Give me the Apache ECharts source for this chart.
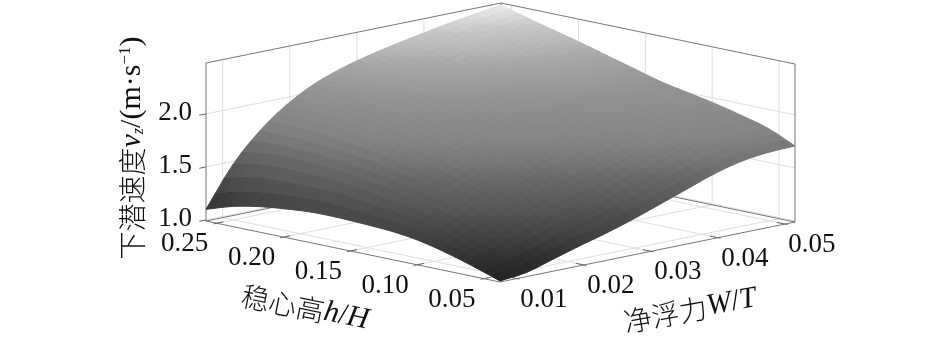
<!DOCTYPE html>
<html><head><meta charset="utf-8">
<style>html,body{margin:0;padding:0;background:#fff}#c{width:945px;height:342px}</style>
<script src="https://cdn.jsdelivr.net/npm/echarts@6/dist/echarts.min.js"></script>
</head><body><div id="c"></div>
<script>
// Grid values
const wValues = [0.0075,0.0115,0.0155,0.0195,0.0235,0.0275,0.0315,0.0355,0.0395,0.0435,0.0475,0.0515];
const hValues = [0.038,0.058,0.078,0.098,0.118,0.138,0.158,0.178,0.198,0.218,0.238,0.258];
// speed[h index][W index]
const speed = [
[1.00,1.03,1.105,1.18,1.25,1.33,1.42,1.51,1.60,1.665,1.697,1.707],
[1.085,1.144,1.231,1.315,1.383,1.465,1.553,1.638,1.72,1.78,1.81,1.82],
[1.16,1.245,1.341,1.432,1.50,1.577,1.658,1.732,1.81,1.862,1.884,1.89],
[1.22,1.331,1.438,1.535,1.603,1.676,1.749,1.817,1.885,1.93,1.946,1.95],
[1.255,1.394,1.51,1.617,1.69,1.756,1.825,1.885,1.945,1.985,1.998,2.00],
[1.27,1.438,1.568,1.685,1.762,1.825,1.891,1.947,2.00,2.036,2.048,2.05],
[1.28,1.481,1.624,1.75,1.835,1.899,1.963,2.015,2.065,2.099,2.111,2.12],
[1.28,1.513,1.672,1.81,1.90,1.966,2.031,2.082,2.126,2.158,2.175,2.19],
[1.26,1.527,1.703,1.86,1.955,2.025,2.093,2.142,2.185,2.22,2.24,2.26],
[1.23,1.532,1.728,1.90,2.004,2.079,2.149,2.201,2.243,2.28,2.305,2.325],
[1.18,1.52,1.736,1.92,2.04,2.123,2.195,2.25,2.295,2.335,2.365,2.39],
[1.10,1.47,1.735,1.93,2.07,2.165,2.235,2.29,2.34,2.385,2.425,2.46]
];
const wTicks = [0.01,0.02,0.03,0.04,0.05];
const wTickLabels = ['0.01','0.02','0.03','0.04','0.05'];
const hTicks = [0.05,0.10,0.15,0.20,0.25];
const hTickLabels = ['0.05','0.10','0.15','0.20','0.25'];
const zTicks = [1.0,1.5,2.0];
const zTickLabels = ['1.0','1.5','2.0'];
const zRange = [0.99,2.48];
// Gray colour ramp: [speed, gray level]
const grayRamp = [[1.0,34],[1.15,52],[1.3,72],[1.55,100],[1.8,132],[2.03,146],[2.2,168],[2.355,200],[2.46,238]];

// View of the 3-D box on the page plane (orthographic)
const wMin=wValues[0], wMax=wValues[wValues.length-1], hMin=hValues[0], hMax=hValues[hValues.length-1];
const origin=[500,282], wVec=[295,-60], hVec=[-294,-61], zVec=[0,-158];
function project(w,h,z){
  const a=(w-wMin)/(wMax-wMin), b=(h-hMin)/(hMax-hMin), c=(z-zRange[0])/(zRange[1]-zRange[0]);
  return [origin[0]+a*wVec[0]+b*hVec[0]+c*zVec[0], origin[1]+a*wVec[1]+b*hVec[1]+c*zVec[1]];
}
const zLo=zRange[0], zHi=zRange[1];
const gridSegs=[], boxSegs=[], tickSegs=[];
wTicks.forEach(w=>{
  gridSegs.push([[w,hMax,zLo],[w,hMax,zHi]]);
  gridSegs.push([[w,hMin,zLo],[w,hMax,zLo]]);
  tickSegs.push([[w,hMin-0.002,zLo],[w,hMin+0.006,zLo]]);
});
hTicks.forEach(h=>{
  gridSegs.push([[wMax,h,zLo],[wMax,h,zHi]]);
  gridSegs.push([[wMin,h,zLo],[wMax,h,zLo]]);
  tickSegs.push([[wMin-0.0005,h,zLo],[wMin+0.001,h,zLo]]);
});
zTicks.forEach(z=>{
  gridSegs.push([[wMin,hMax,z],[wMax,hMax,z]]);
  gridSegs.push([[wMax,hMin,z],[wMax,hMax,z]]);
  tickSegs.push([[wMin-0.001,hMax,z],[wMin,hMax,z]]);
});
boxSegs.push(
  [[wMin,hMax,zLo],[wMin,hMax,zHi]],[[wMax,hMin,zLo],[wMax,hMin,zHi]],[[wMax,hMax,zLo],[wMax,hMax,zHi]],
  [[wMin,hMax,zHi],[wMax,hMax,zHi]],[[wMax,hMin,zHi],[wMax,hMax,zHi]],
  [[wMin,hMax,zLo],[wMax,hMax,zLo]],[[wMax,hMin,zLo],[wMax,hMax,zLo]],
  [[wMin,hMin,zLo],[wMax,hMin,zLo]],[[wMin,hMin,zLo],[wMin,hMax,zLo]]
);
function grayOf(z){
  let g=grayRamp[grayRamp.length-1][1];
  if(z<=grayRamp[0][0]) g=grayRamp[0][1];
  else for(let k=1;k<grayRamp.length;k++){
    if(z<=grayRamp[k][0]){
      const a=grayRamp[k-1], b=grayRamp[k];
      g=a[1]+(b[1]-a[1])*(z-a[0])/(b[0]-a[0]);
      break;
    }
  }
  g=Math.round(g);
  return 'rgb('+g+','+g+','+g+')';
}
// Smooth drawing of the read grid (like a smoothed line): each grid cell is drawn as a few flat facets
const SUB=3;
function cr(p0,p1,p2,p3,u){
  return 0.5*(2*p1+(p2-p0)*u+(2*p0-5*p1+4*p2-p3)*u*u+(3*p1-p0-3*p2+p3)*u*u*u);
}
function ext(a,k){
  if(k<0) return 2*a[0]-a[1];
  if(k>=a.length) return 2*a[a.length-1]-a[a.length-2];
  return a[k];
}
function smoothList(a,pos){
  const k=Math.min(Math.floor(pos),a.length-2), u=pos-k;
  return cr(ext(a,k-1),a[k],a[k+1],ext(a,k+2),u);
}
const nF=(hValues.length-1)*SUB+1, mF=(wValues.length-1)*SUB+1;
const fine=[];
for(let i=0;i<nF;i++){
  const row=[];
  for(let j=0;j<mF;j++){
    const col=speed.map(r=>smoothList(r,j/SUB));
    row.push(smoothList(col,i/SUB));
  }
  fine.push(row);
}
const posOf=(list,f)=>list[0]+(list[list.length-1]-list[0])*f;
const cells=[];
for(let i=nF-2;i>=0;i--) for(let j=mF-2;j>=0;j--) cells.push([i,j]);

function segSeries(name,segs,color,width){
  return {type:'custom',name,coordinateSystem:'cartesian2d',silent:true,clip:false,
    data:segs.map((s,i)=>[i]),encode:{x:0,y:0},
    renderItem(p,api){
      const s=segs[api.value(0)];
      const a=api.coord(project(...s[0])), b=api.coord(project(...s[1]));
      return {type:'line',shape:{x1:a[0],y1:a[1],x2:b[0],y2:b[1]},style:{stroke:color,lineWidth:width}};
    }};
}
const serif='"Liberation Serif","Times New Roman",serif';
const labelItems=[];
wTicks.forEach((w,i)=>labelItems.push({p:[w,hMin,zLo],dx:27,dy:21,t:wTickLabels[i]}));
hTicks.forEach((h,i)=>labelItems.push({p:[wMin,h,zLo],dx:-32,dy:21,t:hTickLabels[i]}));
zTicks.forEach((z,i)=>labelItems.push({p:[wMin,hMax,z],dx:-31,dy:-1,t:zTickLabels[i]}));

const cjk={fontFamily:'"Noto Sans CJK SC"',fontSize:28,fontWeight:300,fill:'#111'};
const ital={fontFamily:serif,fontSize:30,fontStyle:'italic',fill:'#111'};
const rom={fontFamily:serif,fontSize:30,fill:'#111'};
const chart=echarts.init(document.getElementById('c'),null,{renderer:'canvas'});
chart.setOption({
  animation:false,
  backgroundColor:'#fff',
  grid:{left:0,right:0,top:0,bottom:0},
  xAxis:{type:'value',min:0,max:945,show:false},
  yAxis:{type:'value',min:0,max:342,inverse:true,show:false},
  graphic:[
    {type:'text',silent:true,x:132,y:148,rotation:Math.PI/2,style:{align:'center',verticalAlign:'middle',
      text:'{c|下潜速度}{i|v}{s|z}{r|/(m·s}{u|−1}{r|)}',
      rich:{c:cjk,i:ital,r:rom,s:{fontFamily:serif,fontSize:16,fontStyle:'italic',fill:'#111',verticalAlign:'bottom',padding:[8,0,0,0]},u:{fontFamily:serif,fontSize:17,fill:'#111',verticalAlign:'top',padding:[0,0,8,0]}}}},
    {type:'text',silent:true,x:305,y:308,rotation:-0.2,style:{align:'center',verticalAlign:'middle',
      text:'{c|稳心高}{i|h}{r|/}{i|H}',rich:{c:cjk,i:ital,r:rom}}},
    {type:'text',silent:true,x:690,y:310,rotation:0.18,style:{align:'center',verticalAlign:'middle',
      text:'{c|净浮力}{i|W}{r|/}{i|T}',rich:{c:cjk,i:ital,r:rom}}}
  ],
  series:[
    segSeries('grid',gridSegs,'#dedede',1),
    segSeries('box',boxSegs,'#777',1),
    segSeries('ticks',tickSegs,'#666',1),
    {type:'custom',name:'surface',coordinateSystem:'cartesian2d',silent:true,clip:false,
      data:cells,encode:{x:0,y:1},
      renderItem(p,api){
        const i=api.value(0), j=api.value(1);
        let sum=0;
        const pts=[[i,j],[i,j+1],[i+1,j+1],[i+1,j]].map(c=>{
          const z=fine[c[0]][c[1]];
          sum+=z;
          return api.coord(project(posOf(wValues,c[1]/(mF-1)),posOf(hValues,c[0]/(nF-1)),z));
        });
        const col=grayOf(sum/4);
        return {type:'polygon',shape:{points:pts},style:{fill:col,stroke:col,lineWidth:1,lineJoin:'round'}};
      }},
    {type:'custom',name:'tickLabels',coordinateSystem:'cartesian2d',silent:true,clip:false,
      data:labelItems.map((d,i)=>[i]),encode:{x:0,y:0},
      renderItem(p,api){
        const d=labelItems[api.value(0)];
        const c=api.coord(project(...d.p));
        return {type:'text',x:c[0]+d.dx,y:c[1]+d.dy,style:{text:d.t,align:'center',verticalAlign:'middle',
          font:'27px '+serif,fill:'#111'}};
      }}
  ]
});
</script></body></html>
